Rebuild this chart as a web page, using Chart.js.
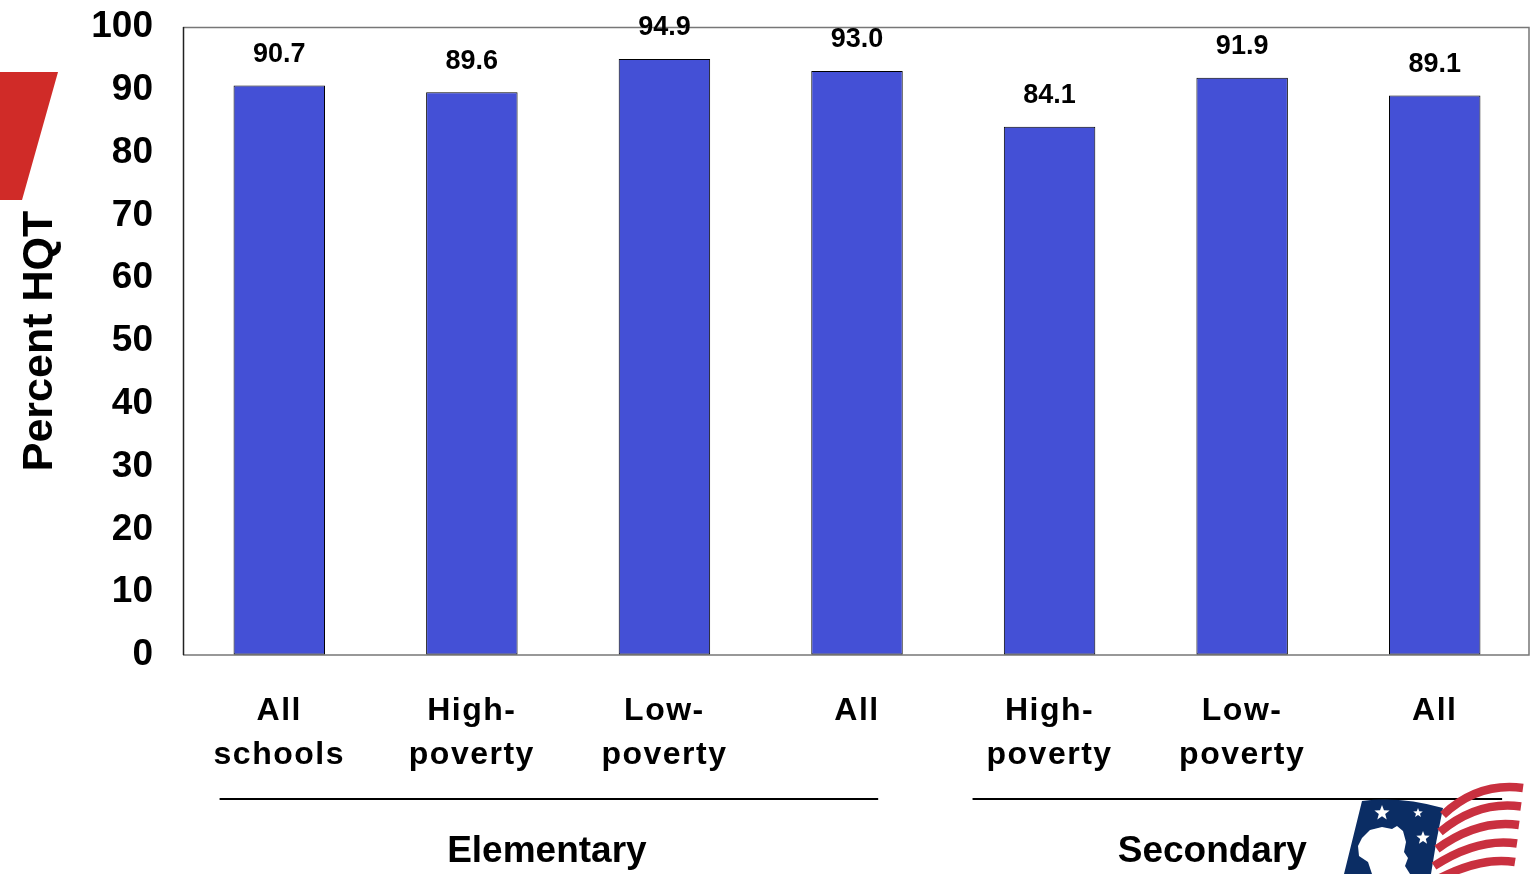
<!DOCTYPE html>
<html>
<head>
<meta charset="utf-8">
<script src="https://cdn.jsdelivr.net/npm/chart.js@4"></script>
<style>
  html, body { margin: 0; padding: 0; background: #fff; }
  canvas { display: block; }
</style>
</head>
<body>
<canvas id="c" width="1533" height="874"></canvas>
<script>
// Share of classes taught by highly qualified teachers, by school level and poverty
const categories = [["All", "schools"], ["High-", "poverty"], ["Low-", "poverty"], ["All"],
                    ["High-", "poverty"], ["Low-", "poverty"], ["All"]];
const percentHQT = [90.7, 89.6, 94.9, 93.0, 84.1, 91.9, 89.1];
const groupNames = ["Elementary", "Secondary"];
const groupOfCategory = [0, 0, 0, 0, 1, 1, 1];
const yTickValues = [0, 10, 20, 30, 40, 50, 60, 70, 80, 90, 100];

const FONT = "'Liberation Sans', Arial, sans-serif";
const BAR_BLUE = "#4450D6";

// underline extents for each group, as fractions of one category width
const groupLineInset = [{ start: 0.19, end: 0.39, labelShift: -2 }, { start: 0.10, end: 0.15, labelShift: -25 }];

const framePlugin = {
  id: "frame",
  beforeDatasetsDraw(chart) {
    const { ctx, chartArea: a } = chart;
    ctx.save();
    ctx.lineWidth = 1.5;
    ctx.strokeStyle = "#777";
    ctx.beginPath();
    ctx.moveTo(a.left, a.top + 0.5); ctx.lineTo(a.right - 2, a.top + 0.5);
    ctx.lineTo(a.right - 2, a.bottom); ctx.lineTo(a.left, a.bottom);
    ctx.stroke();
    ctx.strokeStyle = "#222";
    ctx.beginPath();
    ctx.moveTo(a.left + 0.5, a.top); ctx.lineTo(a.left + 0.5, a.bottom);
    ctx.stroke();
    ctx.restore();
  }
};

const spacedXLabels = {
  id: "spacedXLabels",
  beforeDraw(chart) {
    const sx = chart.scales.x;
    if (sx._spaced) return;
    sx._spaced = true;
    const orig = sx.drawLabels;
    sx.drawLabels = function (area) {
      const ctx = this.ctx;
      ctx.save();
      ctx.letterSpacing = "1.5px";
      orig.call(this, area);
      ctx.restore();
    };
  }
};

const valueLabels = {
  id: "valueLabels",
  afterDatasetsDraw(chart) {
    const { ctx } = chart;
    const meta = chart.getDatasetMeta(0);
    ctx.save();
    ctx.font = "bold 27px " + FONT;
    ctx.fillStyle = "#000";
    ctx.textAlign = "center";
    ctx.textBaseline = "middle";
    meta.data.forEach((bar, i) => {
      const v = chart.data.datasets[0].data[i];
      ctx.fillText(v.toFixed(1), bar.x, bar.y - 31);
    });
    ctx.restore();
  }
};

const groupLabels = {
  id: "groupLabels",
  afterDraw(chart) {
    const { ctx } = chart;
    const sx = chart.scales.x;
    const w = (sx.right - sx.left) / categories.length;
    ctx.save();
    groupNames.forEach((name, g) => {
      const idx = groupOfCategory.map((v, i) => v === g ? i : -1).filter(i => i >= 0);
      const first = idx[0], last = idx[idx.length - 1];
      const x0 = sx.left + first * w + groupLineInset[g].start * w;
      const x1 = sx.left + (last + 1) * w - groupLineInset[g].end * w;
      ctx.strokeStyle = "#000";
      ctx.lineWidth = 2;
      ctx.beginPath();
      ctx.moveTo(x0, 799); ctx.lineTo(x1, 799);
      ctx.stroke();
      ctx.font = "bold 37px " + FONT;
      ctx.fillStyle = "#000";
      ctx.textAlign = "center";
      ctx.textBaseline = "middle";
      ctx.fillText(name, (x0 + x1) / 2 + groupLineInset[g].labelShift, 852);
    });
    ctx.restore();
  }
};

// slide decorations: red corner tab and the flag emblem
const decorations = {
  id: "decorations",
  afterDraw(chart) {
    const { ctx } = chart;
    ctx.save();
    ctx.fillStyle = "#D02B28";
    ctx.beginPath();
    ctx.moveTo(0, 72); ctx.lineTo(58, 72); ctx.lineTo(22, 200); ctx.lineTo(0, 200);
    ctx.closePath(); ctx.fill();

    // navy shield
    ctx.fillStyle = "#0B2D64";
    ctx.beginPath();
    ctx.moveTo(1362, 801);
    ctx.quadraticCurveTo(1400, 796, 1443, 808);
    ctx.quadraticCurveTo(1436, 840, 1431, 874);
    ctx.lineTo(1344, 874);
    ctx.closePath(); ctx.fill();

    // white silhouette
    ctx.fillStyle = "#fff";
    ctx.beginPath();
    ctx.moveTo(1362, 838);
    ctx.lineTo(1370, 830); ctx.lineTo(1382, 827); ctx.lineTo(1392, 829);
    ctx.lineTo(1397, 826); ctx.lineTo(1403, 831); ctx.lineTo(1406, 842);
    ctx.lineTo(1404, 852); ctx.lineTo(1408, 858); ctx.lineTo(1405, 866);
    ctx.lineTo(1410, 874); ctx.lineTo(1372, 874); ctx.lineTo(1368, 862);
    ctx.lineTo(1359, 856); ctx.lineTo(1358, 846);
    ctx.closePath(); ctx.fill();

    const star = (cx, cy, r) => {
      ctx.beginPath();
      for (let k = 0; k < 10; k++) {
        const ang = -Math.PI / 2 + k * Math.PI / 5;
        const rr = k % 2 === 0 ? r : r * 0.42;
        const px = cx + rr * Math.cos(ang), py = cy + rr * Math.sin(ang);
        k === 0 ? ctx.moveTo(px, py) : ctx.lineTo(px, py);
      }
      ctx.closePath(); ctx.fill();
    };
    star(1382, 813, 8);
    star(1418, 813, 5);
    star(1423, 838, 7);

    // red stripes
    ctx.strokeStyle = "#C9303F";
    ctx.lineWidth = 8.5;
    ctx.lineCap = "butt";
    for (let s = 0; s < 5; s++) {
      ctx.beginPath();
      const yl = 815 + s * 17, yr = 788 + s * 18.5;
      ctx.moveTo(1443 - s * 3, yl);
      ctx.quadraticCurveTo(1478, yr - 6, 1523 - s * 2, yr);
      ctx.stroke();
    }
    ctx.restore();
  }
};

new Chart(document.getElementById("c"), {
  type: "bar",
  data: {
    labels: categories,
    datasets: [{
      data: percentHQT,
      backgroundColor: BAR_BLUE,
      borderColor: "#000",
      borderWidth: 1,
      borderSkipped: false,
      categoryPercentage: 1,
      barPercentage: 0.475
    }]
  },
  options: {
    responsive: false,
    animation: false,
    devicePixelRatio: 1,
    layout: { padding: { top: 27, right: 2, left: 0, bottom: 0 } },
    plugins: { legend: { display: false }, tooltip: { enabled: false } },
    scales: {
      x: {
        grid: { display: false, drawTicks: false },
        border: { display: false },
        ticks: {
          color: "#000",
          padding: 34,
          maxRotation: 0,
          autoSkip: false,
          font: { family: FONT, size: 32, weight: "bold", lineHeight: 1.38 }
        },
        afterFit(scale) { scale.height = 219; }
      },
      y: {
        min: 0,
        max: 100,
        afterBuildTicks(scale) { scale.ticks = yTickValues.map(v => ({ value: v })); },
        // invisible tick marks keep the 30px gap between the labels and the axis
        grid: { display: true, drawOnChartArea: false, drawTicks: true, tickLength: 30, color: "rgba(0,0,0,0)" },
        border: { display: false },
        ticks: {
          color: "#000",
          padding: 0,
          font: { family: FONT, size: 37, weight: "bold" }
        },
        title: {
          display: true,
          text: "Percent HQT",
          color: "#000",
          padding: { top: 14, bottom: 0 },
          font: { family: FONT, size: 43, weight: "bold" }
        },
        afterFit(scale) { scale.width = 183; }
      }
    }
  },
  plugins: [framePlugin, spacedXLabels, valueLabels, groupLabels, decorations]
});
</script>
</body>
</html>
